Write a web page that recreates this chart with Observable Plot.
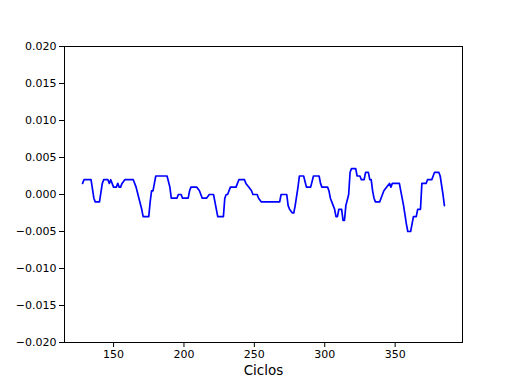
<!DOCTYPE html>
<html>
<head>
<meta charset="utf-8">
<script src="https://cdn.jsdelivr.net/npm/d3@7"></script>
<script src="https://cdn.jsdelivr.net/npm/@observablehq/plot@0.6"></script>
<style>
  html, body { margin: 0; padding: 0; background: #fff; }
  #chart svg { display: block; }
</style>
</head>
<body>
<div id="chart"></div>
<script>
const cycles = [128,129,134,136,137,140,142,143,146,147,148,150,152,153,154,155,156,158,164,166,168,170,171,175,176,177,178,179,180,188,190,191,195,196,198,199,203,204,205,209,211,212,213,216,218,221,222,224,228,229,230,231,232,233,237,238,239,243,244,246,248,249,252,253,255,268,269,273,274,275,277,278,279,281,282,285,287,290,292,296,297,298,302,303,304,305,307,308,309,310,312,313,314,315,317,318,319,322,323,325,326,328,329,331,332,333,334,335,336,339,340,342,344,346,347,348,353,354,356,358,359,361,362,363,365,366,368,369,372,373,376,377,378,381,382,384,385];
const values = [0.0015,0.002,0.002,-0.0005,-0.001,-0.001,0.0015,0.002,0.002,0.0015,0.002,0.001,0.001,0.0015,0.001,0.001,0.0015,0.002,0.002,0.001,-0.0005,-0.002,-0.003,-0.003,-0.001,0.0005,0.0005,0.0015,0.0025,0.0025,0.001,-0.0005,-0.0005,0,0,-0.0005,-0.0005,0.0005,0.001,0.001,0.0005,0,-0.0005,-0.0005,0,0,-0.001,-0.003,-0.003,-0.0005,0,0,0.0005,0.001,0.001,0.0015,0.002,0.002,0.0015,0.001,0.0005,0,0,-0.0005,-0.001,-0.001,0,0,-0.0015,-0.002,-0.0025,-0.0025,-0.0015,0.001,0.0025,0.0025,0.001,0.001,0.0025,0.0025,0.0015,0.001,0.001,0.0005,-0.0005,-0.001,-0.002,-0.003,-0.003,-0.002,-0.002,-0.0035,-0.0035,-0.0015,0,0.003,0.0035,0.0035,0.0025,0.0025,0.002,0.002,0.003,0.003,0.002,0.002,0.0005,-0.0005,-0.001,-0.001,-0.0005,0.0005,0.001,0.0015,0.001,0.0015,0.0015,0.0005,-0.0015,-0.004,-0.005,-0.005,-0.004,-0.003,-0.003,-0.002,-0.002,0.0015,0.0015,0.002,0.002,0.0025,0.003,0.003,0.0025,0,-0.0015];
const xTicks = [150,200,250,300,350];
const yTicks = [-0.02,-0.015,-0.01,-0.005,0,0.005,0.01,0.015,0.02];
const xLabel = "Ciclos";

const data = cycles.map((c, i) => ({c, v: values[i]}));
const xMin = d3.min(cycles), xMax = d3.max(cycles), pad = (xMax - xMin) * 0.05;

const chart = Plot.plot({
  width: 512,
  height: 384,
  marginLeft: 64,
  marginRight: 50,
  marginTop: 46,
  marginBottom: 42,
  style: {fontFamily: "DejaVu Sans", fontSize: "11px", background: "#fff", color: "#000"},
  x: {domain: [xMin - pad, xMax + pad]},
  y: {domain: [-0.02, 0.02]},
  marks: [
    Plot.axisX({ticks: xTicks, tickSize: 5, tickPadding: 3, tickFormat: d3.format("d"), label: null, fontSize: 11}),
    Plot.axisY({ticks: yTicks, tickSize: 5, tickPadding: 3, tickFormat: d3.format(".3f"), label: null, fontSize: 11}),
    Plot.line(data, {x: "c", y: "v", stroke: "#0000ff", strokeWidth: 1.7}),
    Plot.frame({stroke: "#000", strokeWidth: 1}),
    Plot.text([xLabel], {frameAnchor: "bottom", dy: 28, fontSize: 13.5, lineAnchor: "middle"})
  ]
});
document.getElementById("chart").appendChild(chart);
</script>
</body>
</html>
